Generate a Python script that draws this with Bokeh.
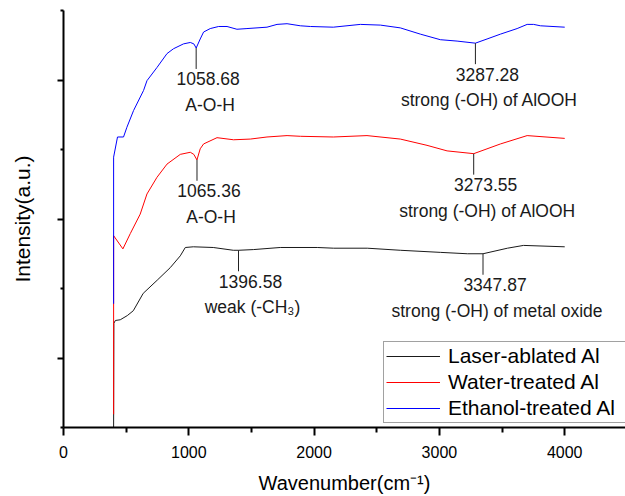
import numpy as np
from bokeh.plotting import figure
from bokeh.models import FixedTicker, Legend, LegendItem, ColumnDataSource
from bokeh.embed import file_html
from bokeh.resources import INLINE
from bokeh.core.properties import value

# ---- data ----
laser_x = [400, 402, 414, 453, 509, 557, 636, 748, 852, 932, 972, 1036, 1195, 1355, 1397,
           1515, 1730, 2025, 2156, 2424, 2688, 3007, 3223, 3348, 3543, 3671, 4000]
laser_y = [0.0, 1.50, 1.54, 1.55, 1.61, 1.68, 1.93, 2.12, 2.30, 2.47, 2.59, 2.60, 2.59, 2.55, 2.55,
           2.56, 2.59, 2.59, 2.58, 2.58, 2.55, 2.52, 2.50, 2.50, 2.58, 2.62, 2.60]

water_x = [400, 400, 474, 533, 612, 666, 746, 826, 932, 1012, 1040, 1065, 1091, 1118, 1225,
           1357, 1491, 1624, 1784, 1890, 2153, 2422, 2688, 2901, 3061, 3274, 3487, 3700, 4000]
water_y = [0.19, 2.76, 2.57, 2.79, 3.07, 3.36, 3.60, 3.79, 3.93, 3.96, 3.93, 3.85, 4.01, 4.08, 4.17,
           4.14, 4.15, 4.18, 4.20, 4.19, 4.18, 4.20, 4.15, 4.06, 3.98, 3.94, 4.08, 4.20, 4.16]

ethanol_x = [400, 400, 431, 479, 506, 559, 639, 666, 746, 826, 878, 958, 1012, 1040, 1059, 1091,
             1118, 1171, 1238, 1305, 1384, 1464, 1624, 1704, 1784, 1890, 1970, 2153, 2369, 2529,
             2688, 2848, 3007, 3141, 3287, 3380, 3487, 3620, 3700, 3752, 3806, 4000]
ethanol_y = [1.78, 3.89, 4.18, 4.18, 4.32, 4.56, 4.85, 4.99, 5.18, 5.38, 5.45, 5.52, 5.54, 5.52, 5.46, 5.59,
             5.69, 5.74, 5.77, 5.77, 5.73, 5.74, 5.76, 5.80, 5.81, 5.78, 5.77, 5.76, 5.80, 5.79,
             5.75, 5.66, 5.58, 5.56, 5.53, 5.59, 5.66, 5.74, 5.80, 5.80, 5.78, 5.76]

series_names = ["Laser-ablated Al", "Water-treated Al", "Ethanol-treated Al"]

peak_series = [2, 2, 1, 1, 0, 0]
peak_x = [1058.68, 3287.28, 1065.36, 3273.55, 1396.58, 3347.87]
peak_num = ["1058.68", "3287.28", "1065.36", "3273.55", "1396.58", "3347.87"]
peak_desc = ["A-O-H", "strong (-OH) of AlOOH", "A-O-H", "strong (-OH) of AlOOH",
             "weak (-CH\u2083)", "strong (-OH) of metal oxide"]

x_major = [0, 1000, 2000, 3000, 4000]
x_minor = [500, 1500, 2500, 3500]
y_major = [1, 3, 5]
y_minor = [0, 2, 4, 6]

# ---- figure ----
W, H = 625, 496
BL, BR, BT, BB = 63, 0, 10, 69
X0, X1, Y0, Y1 = 0, 4485, 0, 6
FONT = "Liberation Sans"

p = figure(width=W, height=H, x_range=(X0, X1), y_range=(Y0, Y1),
           output_backend="svg", toolbar_location=None,
           min_border_left=BL, min_border_right=BR, min_border_top=BT, min_border_bottom=BB)
p.outline_line_color = None
p.grid.visible = False
p.background_fill_color = "white"
p.border_fill_color = "white"

px_per_unit = (H - BT - BB) / (Y1 - Y0)

colors = ["#1a1a1a", "#ff0000", "#0000ff"]
xs = [laser_x, water_x, ethanol_x]
ys = [laser_y, water_y, ethanol_y]
renderers = []
for sx, sy, c in zip(xs, ys, colors):
    r = p.line(sx, sy, line_color=c, line_width=1)
    renderers.append(r)

# ---- annotations ----
dip_y = [float(np.interp(px, xs[s], ys[s])) for px, s in zip(peak_x, peak_series)]
seg_len = 21 / px_per_unit
ann = ColumnDataSource(dict(x=peak_x, y=dip_y, y1=[d - seg_len for d in dip_y],
                            num=peak_num, desc=peak_desc))
p.segment(x0="x", y0="y", x1="x", y1="y1", source=ann, line_color="#222222", line_width=1)
p.text(x="x", y="y", text="num", source=ann, x_offset=12, y_offset=31,
       text_align="center", text_baseline="middle", text_font=value(FONT),
       text_font_size="17.5px", text_color="#1a1a1a")
p.text(x="x", y="y", text="desc", source=ann, x_offset=14, y_offset=57,
       text_align="center", text_baseline="middle", text_font=value(FONT),
       text_font_size="17.5px", text_color="#1a1a1a")

# ---- axes ----
p.xaxis.ticker = FixedTicker(ticks=x_major, minor_ticks=x_minor)
p.yaxis.ticker = FixedTicker(ticks=y_major, minor_ticks=y_minor)
for ax in (p.xaxis[0], p.yaxis[0]):
    ax.axis_line_width = 2
    ax.axis_line_color = "black"
    ax.major_tick_line_color = "black"
    ax.minor_tick_line_color = "black"
    ax.major_tick_line_width = 2
    ax.minor_tick_line_width = 2
    ax.major_tick_in = 0
    ax.minor_tick_in = 0
    ax.axis_label_text_font = FONT
    ax.axis_label_text_font_style = "normal"
    ax.axis_label_text_color = "black"
    ax.major_label_text_font = FONT
    ax.major_label_text_color = "black"

p.xaxis.major_tick_out = 8
p.xaxis.minor_tick_out = 5
p.xaxis.major_label_text_font_size = "16px"
p.xaxis.major_label_standoff = 10
p.xaxis.axis_label = "Wavenumber(cm\u207b\u00b9)"
p.xaxis.axis_label_text_font_size = "20px"
p.xaxis.axis_label_standoff = 11

p.yaxis.major_tick_out = 6
p.yaxis.minor_tick_out = 3
p.yaxis.major_label_overrides = {t: "" for t in y_major}
p.yaxis.major_label_standoff = 0
p.yaxis.axis_label = "Intensity(a.u.)"
p.yaxis.axis_label_text_font_size = "21px"
p.yaxis.axis_label_standoff = 24

# ---- legend ----
legend = Legend(items=[LegendItem(label=n, renderers=[r]) for n, r in zip(series_names, renderers)],
                location=(320, 4), padding=2, spacing=2, margin=0,
                label_height=22, glyph_height=22, glyph_width=54, label_standoff=8,
                label_width=185,
                label_text_font=FONT, label_text_font_size="21px", label_text_color="black",
                border_line_color="#444444", border_line_width=1,
                background_fill_color="white", background_fill_alpha=1.0)
p.add_layout(legend, "center")

open("out.html", "w").write(file_html(p, INLINE))
